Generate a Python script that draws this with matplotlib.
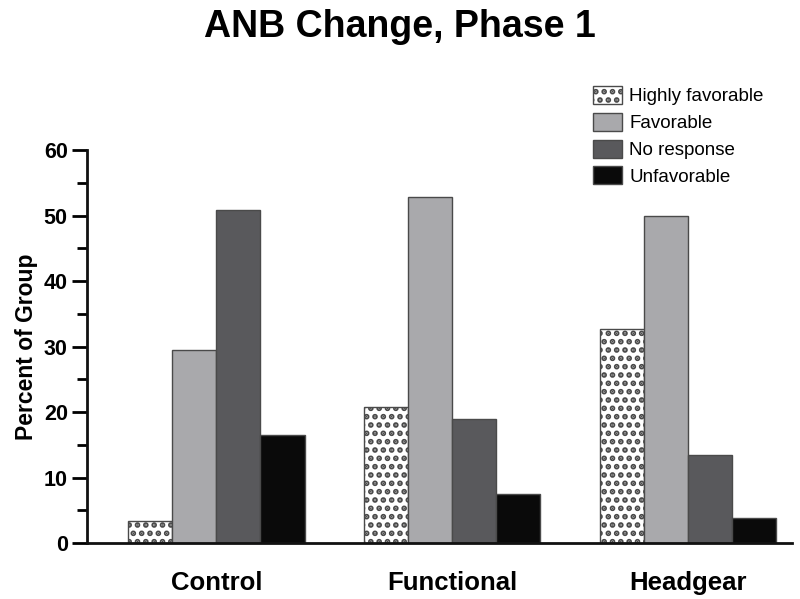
import numpy as np
import matplotlib as mpl
mpl.use('Agg')
import matplotlib.pyplot as plt
from matplotlib.ticker import MultipleLocator

mpl.rcParams['font.family'] = ['Liberation Sans', 'DejaVu Sans']
mpl.rcParams['hatch.color'] = 'black'
mpl.rcParams['hatch.linewidth'] = 2.8

groups = ['Control', 'Functional', 'Headgear']
responses = ['Highly favorable', 'Favorable', 'No response', 'Unfavorable']
highly_fav = [3.3, 20.8, 32.7]
favorable = [29.5, 52.8, 50.0]
no_response = [50.8, 19.0, 13.5]
unfavorable = [16.5, 7.5, 3.8]

series = [highly_fav, favorable, no_response, unfavorable]
colors = ['white', '#a9a9ac', '#59595c', '#0a0a0a']
hatches = ['..', None, None, None]

fig = plt.figure(figsize=(8.0, 5.99), dpi=100)
ax = fig.add_axes([0.109, 0.0935, 0.881, 0.656])

x = np.arange(len(groups))
w = 0.187
for i, vals in enumerate(series):
    ax.bar(x + (i - 1.5) * w, vals, w, color=colors[i], hatch=hatches[i],
           edgecolor='#4a4a4a', linewidth=1.0, label=responses[i])

ax.set_xlim(-0.547, 2.44)
ax.set_ylim(0, 60)
ax.yaxis.set_major_locator(MultipleLocator(10))
ax.yaxis.set_minor_locator(MultipleLocator(5))
ax.tick_params(axis='y', which='major', direction='out', length=11, width=2,
               labelsize=15.5, pad=3)
ax.tick_params(axis='y', which='minor', direction='out', length=7, width=2)
for t in ax.get_yticklabels():
    t.set_fontweight('bold')
ax.set_xticks(x)
ax.set_xticklabels(groups, fontsize=18.5, fontweight='bold')
ax.tick_params(axis='x', length=0, pad=20)

for s in ['top', 'right']:
    ax.spines[s].set_visible(False)
for s in ['left', 'bottom']:
    ax.spines[s].set_linewidth(2)
    ax.spines[s].set_color('#111111')

ax.set_ylabel('Percent of Group', fontsize=16.5, fontweight='bold', labelpad=4)
fig.suptitle('ANB Change, Phase 1', fontsize=27, fontweight='bold', y=0.985)

leg = fig.legend(loc='upper left', bbox_to_anchor=(0.72, 0.885), frameon=False,
                 fontsize=13.5, handlelength=1.55, handleheight=1.1,
                 handletextpad=0.4, labelspacing=0.4)

fig.savefig('out.png', dpi=100)
